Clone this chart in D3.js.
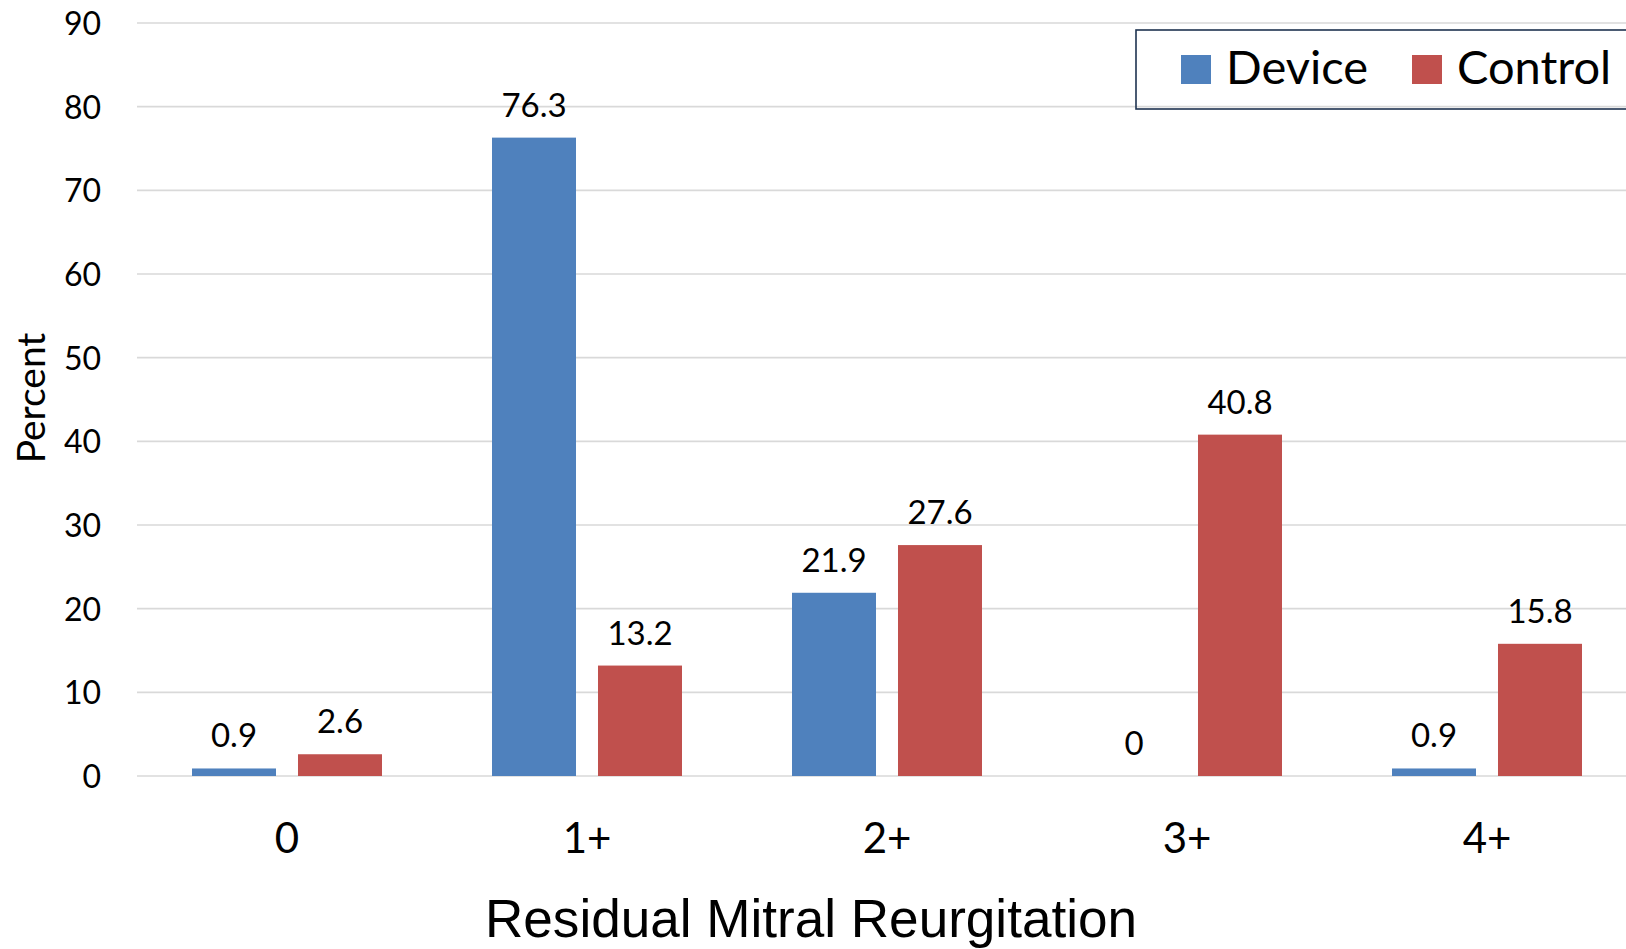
<!DOCTYPE html>
<html>
<head>
<meta charset="utf-8">
<script src="https://cdn.jsdelivr.net/npm/d3@7"></script>
<style>
  html, body { margin: 0; padding: 0; background: #fff; }
  svg { display: block; }
</style>
</head>
<body>
<svg id="chart" width="1626" height="949"></svg>
<script>
// Residual mitral regurgitation grade distribution, device vs control
const categories = ["0", "1+", "2+", "3+", "4+"];
const seriesNames = ["Device", "Control"];
const deviceValues = [0.9, 76.3, 21.9, 0, 0.9];
const controlValues = [2.6, 13.2, 27.6, 40.8, 15.8];
const yTicks = [0, 10, 20, 30, 40, 50, 60, 70, 80, 90];
const colors = ["#4F81BD", "#C0504D"];

const rows = categories.map((c, i) => ({
  cat: c,
  values: [
    { key: seriesNames[0], value: deviceValues[i] },
    { key: seriesNames[1], value: controlValues[i] }
  ]
}));

const svg = d3.select("#chart");
const font = "Lato, 'Open Sans', sans-serif";

const x0 = d3.scaleBand().domain(categories).range([137, 1637]).padding(0);
const x1 = d3.scaleBand().domain(seriesNames).range([0, x0.bandwidth()])
  .paddingInner(0.2075).paddingOuter(0.519);
const y = d3.scaleLinear().domain([0, 90]).range([776, 23]);
const color = d3.scaleOrdinal().domain(seriesNames).range(colors);

// horizontal gridlines
svg.append("g")
  .selectAll("line")
  .data(yTicks)
  .join("line")
  .attr("x1", 137).attr("x2", 1626)
  .attr("y1", d => y(d)).attr("y2", d => y(d))
  .attr("stroke", "#d9d9d9")
  .attr("stroke-width", 1.6);

// y axis labels
const yAxis = d3.axisLeft(y).tickValues(yTicks).tickSize(0).tickPadding(0);
const yg = svg.append("g").attr("transform", "translate(101,0)").call(yAxis);
yg.select(".domain").remove();
yg.selectAll("text")
  .attr("font-family", font).attr("font-size", 32).attr("fill", "#000")
  .attr("dy", "0.36em");

// x axis labels
const xAxis = d3.axisBottom(x0).tickSize(0).tickPadding(0);
const xg = svg.append("g").attr("transform", "translate(0,853)").call(xAxis);
xg.select(".domain").remove();
xg.selectAll("text")
  .attr("font-family", font).attr("font-size", 42).attr("fill", "#000")
  .attr("dy", 0).attr("y", 0);

// bars
const groups = svg.append("g")
  .selectAll("g")
  .data(rows)
  .join("g")
  .attr("transform", d => `translate(${x0(d.cat)},0)`);

groups.selectAll("rect")
  .data(d => d.values)
  .join("rect")
  .attr("x", d => x1(d.key))
  .attr("width", x1.bandwidth())
  .attr("y", d => y(d.value))
  .attr("height", d => y(0) - y(d.value))
  .attr("fill", d => color(d.key));

// value labels
groups.selectAll("text")
  .data(d => d.values)
  .join("text")
  .attr("x", d => x1(d.key) + x1.bandwidth() / 2)
  .attr("y", d => y(d.value) - 21)
  .attr("text-anchor", "middle")
  .attr("font-family", font).attr("font-size", 33).attr("fill", "#000")
  .text(d => d.value);

// y axis title
svg.append("text")
  .attr("transform", "translate(45,398) rotate(-90)")
  .attr("text-anchor", "middle")
  .attr("font-family", font).attr("font-size", 39).attr("fill", "#000")
  .text("Percent");

// x axis title
svg.append("text")
  .attr("x", 485).attr("y", 937)
  .attr("textLength", 652).attr("lengthAdjust", "spacingAndGlyphs")
  .attr("font-family", "'Liberation Sans', Arial, sans-serif")
  .attr("font-size", 53).attr("fill", "#000")
  .text("Residual Mitral Reurgitation");

// legend
const legend = svg.append("g");
legend.append("rect")
  .attr("x", 1136).attr("y", 30).attr("width", 520).attr("height", 79)
  .attr("fill", "none").attr("stroke", "#1f3350").attr("stroke-width", 1.6);
const legendX = [1181, 1412];
const items = legend.selectAll("g.item")
  .data(seriesNames)
  .join("g").attr("class", "item")
  .attr("transform", (d, i) => `translate(${legendX[i]},55)`);
items.append("rect")
  .attr("width", 30).attr("height", 29)
  .attr("fill", d => color(d));
items.append("text")
  .attr("x", 45).attr("y", 29)
  .attr("font-family", font).attr("font-size", 47).attr("fill", "#000")
  .text(d => d);
</script>
</body>
</html>
